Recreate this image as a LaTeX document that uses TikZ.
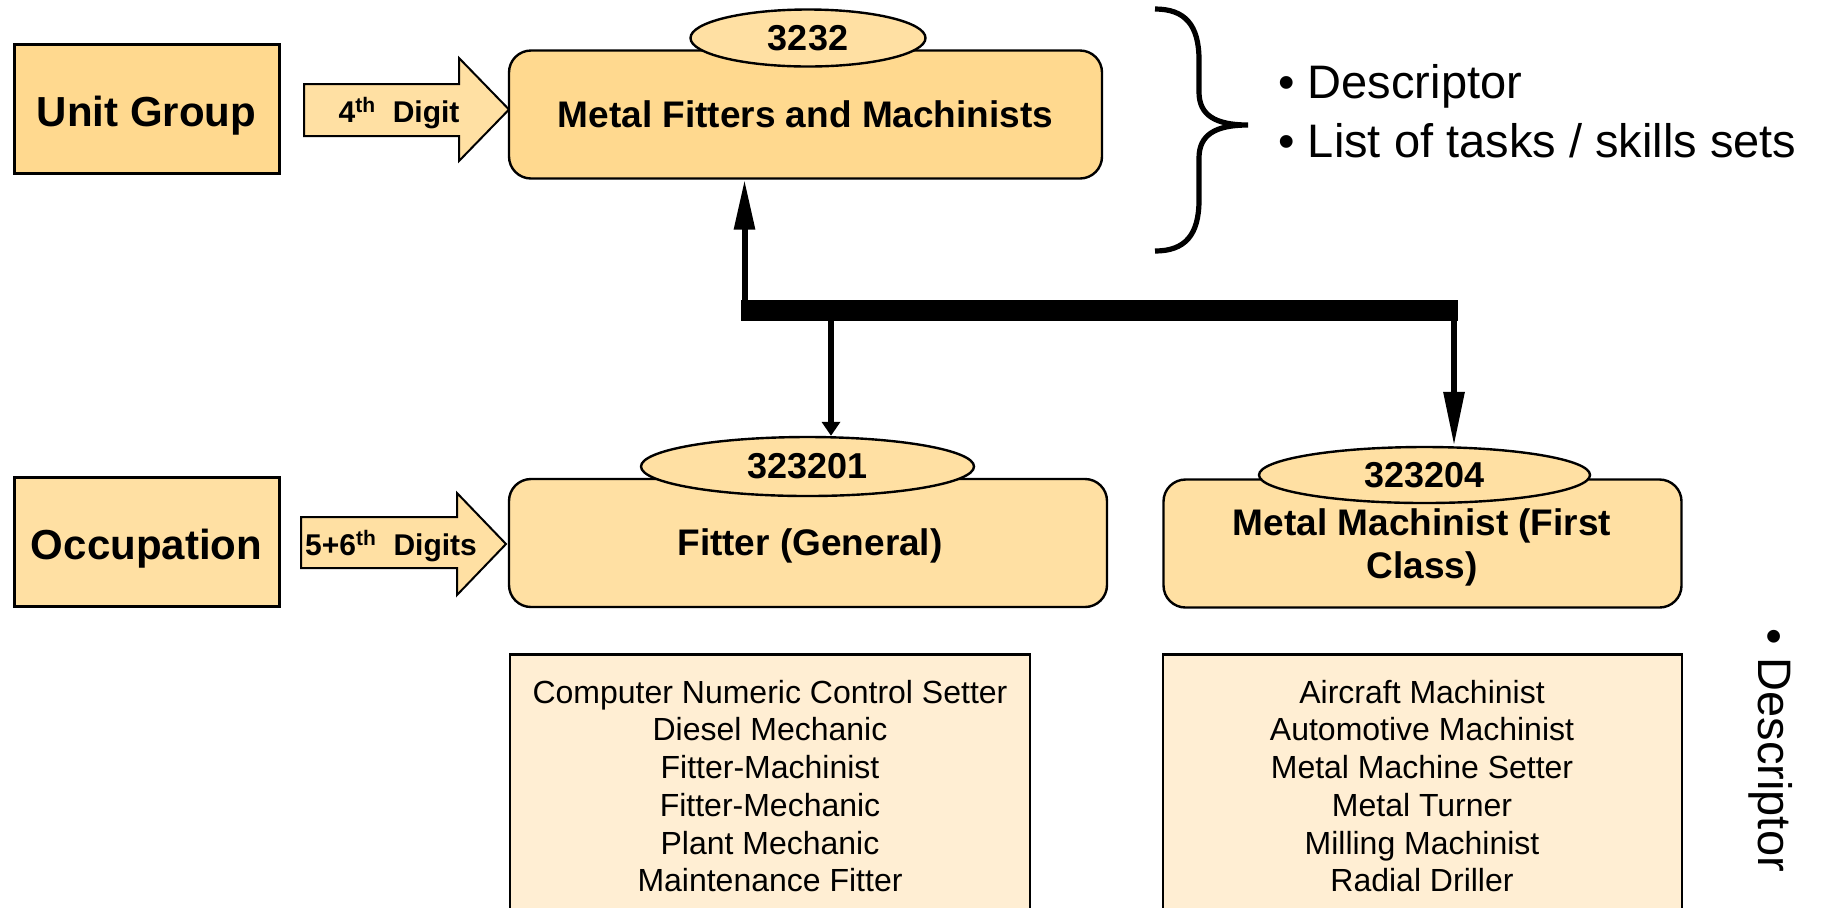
\documentclass[tikz,border=0pt]{standalone}
\usepackage{fontspec}
\setmainfont{Liberation Sans}
\usetikzlibrary{shapes.geometric,arrows.meta}
\definecolor{mainfill}{HTML}{FFD98F}
\definecolor{subfill}{HTML}{FFE0A3}
\definecolor{listfill}{HTML}{FFEED3}
\tikzset{
  levelbox/.style={draw=black,line width=1.5pt,fill=mainfill,minimum width=132.5pt,minimum height=64.5pt,inner sep=0pt,text height=17.5pt,text depth=0pt,font=\fontsize{21}{24}\selectfont\bfseries},
  titlebox/.style={draw=black,line width=1.2pt,rounded corners=11pt,minimum height=64pt,inner sep=0pt,align=center,font=\fontsize{18.5}{21.5}\selectfont\bfseries},
  codeell/.style={ellipse,draw=black,line width=1.2pt,fill=subfill,inner sep=0pt,font=\fontsize{18}{20}\selectfont\bfseries},
  digitarrow/.style={draw=black,line width=1pt,fill=subfill},
  listbox/.style={draw=black,line width=0.7pt,fill=listfill,minimum width=260pt,minimum height=150pt,inner sep=0pt},
  listtext/.style={align=center,inner sep=0pt,font=\fontsize{16}{18.85}\selectfont},
  conn/.style={line width=3pt,draw=black},
  bus/.style={line width=10.5pt,draw=black},
  bigtext/.style={inner sep=0pt,font=\fontsize{23.5}{29.5}\selectfont}
}
\begin{document}
\begin{tikzpicture}[x=0.5pt,y=-0.5pt]
\useasboundingbox (0,0) rectangle (1823,907);
\begin{scope}
\clip (0,0) rectangle (1823,907);
% level boxes
\node[levelbox] (ug) at (146.5,108.5) {Unit Group};
\node[levelbox,fill=subfill] (occ) at (146.5,541.5) {Occupation};
% digit arrows
\draw[digitarrow] (304,84) -- (459,84) -- (459,58) -- (509,109.5) -- (459,161) -- (459,136) -- (304,136) -- cycle;
\node[inner sep=0pt,font=\fontsize{15}{17}\selectfont\bfseries] (d4) at (399,113) {4\textsuperscript{th}\ \ Digit};
\draw[digitarrow] (301,517) -- (457,517) -- (457,493) -- (506,544) -- (457,595) -- (457,568) -- (301,568) -- cycle;
\node[inner sep=0pt,font=\fontsize{15}{17}\selectfont\bfseries] (d56) at (391,546) {5+6\textsuperscript{th}\ \ Digits};
% title boxes
\node[titlebox,fill=mainfill,minimum width=296.5pt] (mf) at (805.5,114.5) {Metal Fitters and Machinists};
\node[codeell,minimum width=117.5pt,minimum height=28.5pt] (e0) at (808,38) {3232};
\node[titlebox,fill=subfill,minimum width=299pt] (fg) at (808,543) {};
\node[inner sep=0pt,font=\fontsize{18.5}{21.5}\selectfont\bfseries] (fgt) at (810,546) {Fitter (General)};
\node[codeell,minimum width=166.5pt,minimum height=29.5pt] (e1) at (807.5,466.5) {323201};
\node[titlebox,fill=subfill,minimum width=259pt] (mm) at (1422.5,543.5) {};
\node[inner sep=0pt,align=center,font=\fontsize{18.5}{21.5}\selectfont\bfseries] (mmt) at (1422,547) {Metal Machinist (First\\Class)};
\node[codeell,minimum width=165.5pt,minimum height=28pt] (e2) at (1424.5,475) {323204};
% list boxes
\node[listbox] (l1) at (770,805) {};
\draw[line width=1.6pt] (l1.north west) -- (l1.north east);
\node[listtext] (t1) at (770,786) {Computer Numeric Control Setter\\Diesel Mechanic\\Fitter-Machinist\\Fitter-Mechanic\\Plant Mechanic\\Maintenance Fitter};
\node[listbox,minimum width=259.5pt] (l2) at (1422.5,805) {};
\draw[line width=1.6pt] (l2.north west) -- (l2.north east);
\node[listtext] (t2) at (1422,786) {Aircraft Machinist\\Automotive Machinist\\Metal Machine Setter\\Metal Turner\\Milling Machinist\\Radial Driller};
% connectors
\coordinate (busL) at (741,310.5);
\coordinate (busR) at (1458,310.5);
\coordinate (jL) at (744.5,321);
\coordinate (jM) at (831,321);
\coordinate (jR) at (1454,321);
\draw[bus] (busL) -- (busR);
\draw[conn,-{Triangle[length=25pt,width=10pt]}] (jL) -- (jL |- mf.south);
\draw[conn,-{Triangle[length=7pt,width=9pt]}] (jM) -- (jM |- e1.north);
\draw[conn,-{Triangle[length=27pt,width=10pt]}] (jR) -- (jR |- e2.north);
% brace
\draw[line width=2.6pt] (1155,9) .. controls (1185,9) and (1199,25) .. (1199,60) -- (1199,92) .. controls (1199,115) and (1215,125) .. (1248,125)
  .. controls (1215,125) and (1199,135) .. (1199,158) -- (1199,200) .. controls (1199,235) and (1185,251) .. (1155,251);
\node[bigtext,anchor=west,align=left] (bl) at (1278,111) {\textbullet\ Descriptor\\\textbullet\ List of tasks / skills sets};
\node[bigtext,rotate=-90] (rd) at (1771,750) {\textbullet\ Descriptor};
\end{scope}
\end{tikzpicture}
\end{document}
